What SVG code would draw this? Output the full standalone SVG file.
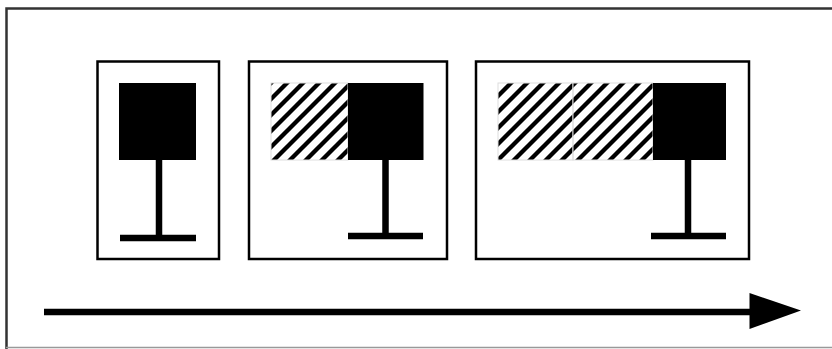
<svg xmlns="http://www.w3.org/2000/svg" width="832" height="349" viewBox="0 0 832 349">
<defs>
<pattern id="hatch" width="16" height="16" patternUnits="userSpaceOnUse" patternTransform="translate(271 83)">
<path d="M-4 4L4 -4M-4 20L20 -4M12 20L20 12" stroke="#000" stroke-width="4.300" fill="none"/>
</pattern>
</defs>
<style>
.frame{fill:none;stroke:#000;stroke-width:2.500}
.outer{fill:none;stroke:#333;stroke-width:2.500}
.solid{fill:#000}
.hatch{fill:url(#hatch);stroke:#ddd;stroke-width:1}
.bar{stroke:#000;stroke-width:6.500;fill:none}
</style>
<rect width="832" height="349" fill="#fff"/>
<g id="outer"><path class="outer" d="M6.500 349V8.500H832"/><path d="M6 347.500H832" stroke="#999" stroke-width="1.500" fill="none"/></g>
<g id="node-1">
<rect class="frame" x="97.500" y="61.500" width="121.500" height="197.500"/>
<rect class="solid" x="119" y="83" width="77" height="77"/>
<path class="bar" d="M159 160V238M120 238H196"/>
</g>
<g id="node-2">
<rect class="frame" x="249" y="61.500" width="198" height="197.500"/>
<rect class="hatch" x="271" y="83" width="77" height="77"/>
<rect class="solid" x="348" y="83" width="75.500" height="77"/>
<path class="bar" d="M385.500 160V236M348 236H423"/>
</g>
<g id="node-3">
<rect class="frame" x="476" y="61.500" width="273" height="197.500"/>
<rect class="hatch" x="498" y="83" width="75" height="77"/>
<rect class="hatch" x="573" y="83" width="80" height="77"/>
<rect class="solid" x="653" y="83" width="73" height="77"/>
<path class="bar" d="M688 160V236M651 236H726"/>
</g>
<g id="connectors">
<path class="bar" d="M44 312H752"/>
<path class="solid" d="M749.500 293L801 310.500L749.500 329Z"/>
</g>
</svg>
